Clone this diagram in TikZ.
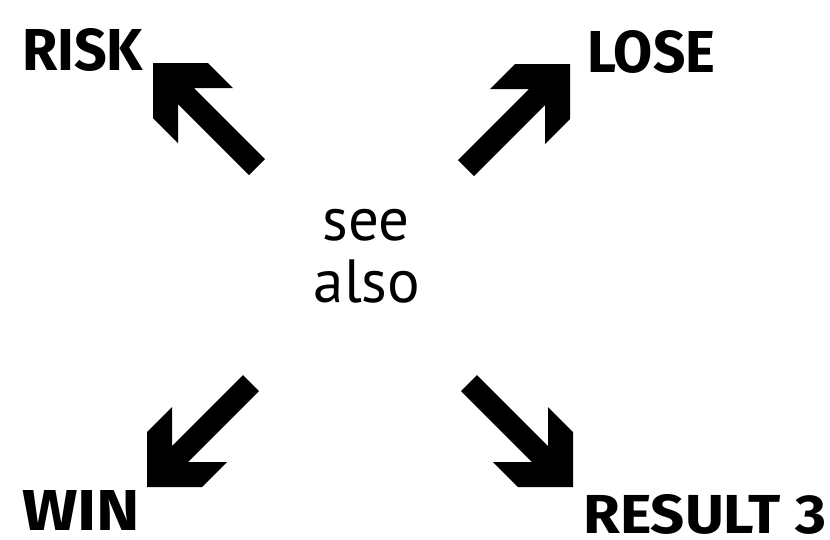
\documentclass[tikz,border=0pt]{standalone}
\usepackage{fontspec}
\setmainfont{PT Sans}
\newfontfamily\heavyfont{Fira Sans}
\tikzset{
  arrowfill/.style={fill=black},
  biglabel/.style={inner sep=0pt, anchor=north west, font=\heavyfont\bfseries},
  centertext/.style={inner sep=0pt, font=\fontsize{61}{63}\selectfont},
  blockarrow/.pic={
    \fill[arrowfill] (0,0) -- (55,0) -- (80,25) -- (41,25) -- (112,96)
      -- (96,112) -- (25,41) -- (25,80) -- (0,55) -- cycle;
  }
}
\begin{document}
\begin{tikzpicture}[x=1pt,y=-1pt]
\useasboundingbox (0,0) rectangle (830,539);
% labels
\node[biglabel] (risk) at (22,28) {\resizebox{121pt}{42pt}{RISK}};
\node[biglabel] (lose) at (587,30) {\resizebox{128pt}{42pt}{LOSE}};
\node[biglabel] (win) at (22,490) {\resizebox{118pt}{40pt}{WIN}};
\node[biglabel] (result) at (583,494) {\resizebox{243pt}{39pt}{RESULT 3}};
% center text
\node[centertext, anchor=base] (see) at (366,240) {see};
\node[centertext, anchor=base] (also) at (367,302) {also};
% arrows
\pic at (153,63) {blockarrow};
\pic[xscale=-1] at (570,64) {blockarrow};
\pic[yscale=-1] at (147,487) {blockarrow};
\pic[xscale=-1,yscale=-1] at (573,487) {blockarrow};
\end{tikzpicture}
\end{document}
